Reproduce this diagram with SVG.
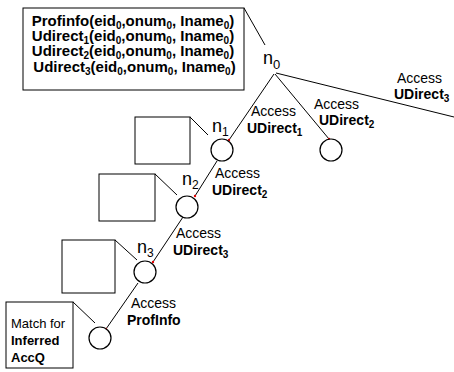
<svg xmlns="http://www.w3.org/2000/svg" width="454" height="372" viewBox="0 0 454 372">
<style>
.box{fill:#fff;stroke:#000;stroke-width:1}
.node{fill:#fff;stroke:#000;stroke-width:1.2}
.edge{stroke:#000;stroke-width:1;fill:none}
.t{font-family:"Liberation Sans",Arial,sans-serif;fill:#000}
.lab{font-size:14px}
.b{font-weight:bold}
.nl{font-size:18px}
.bt{font-size:15px;font-weight:bold}
.mt{font-size:13px}
</style>
<defs>
<marker id="dot" viewBox="0 0 4 4" refX="2" refY="2" markerWidth="4" markerHeight="4" markerUnits="userSpaceOnUse">
<circle cx="2" cy="2" r="1.2" fill="#e00000"/>
</marker>
</defs>
<g id="connectors">
<line class="edge" x1="244" y1="8" x2="265" y2="45"/>
<line class="edge" x1="274" y1="74" x2="229" y2="140" marker-end="url(#dot)"/>
<line class="edge" x1="275" y1="74" x2="329" y2="139" marker-end="url(#dot)"/>
<line class="edge" x1="276" y1="73" x2="454" y2="117"/>
<line class="edge" x1="190" y1="117" x2="208" y2="135"/>
<line class="edge" x1="217" y1="161" x2="195" y2="196" marker-end="url(#dot)"/>
<line class="edge" x1="155" y1="174" x2="177" y2="195"/>
<line class="edge" x1="183" y1="217" x2="153" y2="262" marker-end="url(#dot)"/>
<line class="edge" x1="115" y1="240" x2="137" y2="260"/>
<line class="edge" x1="138" y1="283" x2="106" y2="329" marker-end="url(#dot)"/>
<line class="edge" x1="73" y1="302" x2="95" y2="323"/>
</g>
<g id="edge-labels" class="t lab">
<text x="397" y="83">Access</text>
<text class="b" x="394" y="99">UDirect<tspan font-size="10" dy="3">3</tspan></text>
<text x="314" y="109">Access</text>
<text class="b" x="319" y="125">UDirect<tspan font-size="10" dy="3">2</tspan></text>
<text x="251" y="116">Access</text>
<text class="b" x="247" y="133">UDirect<tspan font-size="10" dy="3">1</tspan></text>
<text x="215" y="178">Access</text>
<text class="b" x="212" y="195">UDirect<tspan font-size="10" dy="3">2</tspan></text>
<text x="176" y="238">Access</text>
<text class="b" x="173" y="255">UDirect<tspan font-size="10" dy="3">3</tspan></text>
<text x="131" y="308">Access</text>
<text class="b" x="127" y="325">ProfInfo</text>
</g>
<g id="n0-box">
<rect class="box" x="23" y="8" width="221" height="82"/>
<text class="t bt" x="133" y="26" text-anchor="middle">Profinfo(eid<tspan font-size="10" dy="3">0</tspan><tspan dy="-3">,onum</tspan><tspan font-size="10" dy="3">0</tspan><tspan dy="-3">, Iname</tspan><tspan font-size="10" dy="3">0</tspan><tspan dy="-3">)</tspan></text>
<text class="t bt" x="133" y="41" text-anchor="middle">Udirect<tspan font-size="10" dy="3">1</tspan><tspan dy="-3">(eid</tspan><tspan font-size="10" dy="3">0</tspan><tspan dy="-3">,onum</tspan><tspan font-size="10" dy="3">0</tspan><tspan dy="-3">, Iname</tspan><tspan font-size="10" dy="3">0</tspan><tspan dy="-3">)</tspan></text>
<text class="t bt" x="133" y="56" text-anchor="middle">Udirect<tspan font-size="10" dy="3">2</tspan><tspan dy="-3">(eid</tspan><tspan font-size="10" dy="3">0</tspan><tspan dy="-3">,onum</tspan><tspan font-size="10" dy="3">0</tspan><tspan dy="-3">, Iname</tspan><tspan font-size="10" dy="3">0</tspan><tspan dy="-3">)</tspan></text>
<text class="t bt" x="134.5" y="72" text-anchor="middle">Udirect<tspan font-size="10" dy="3">3</tspan><tspan dy="-3">(eid</tspan><tspan font-size="10" dy="3">0</tspan><tspan dy="-3">,onum</tspan><tspan font-size="10" dy="3">0</tspan><tspan dy="-3">, Iname</tspan><tspan font-size="10" dy="3">0</tspan><tspan dy="-3">)</tspan></text>
</g>
<g id="n0">
<text class="t nl" x="263" y="64">n<tspan font-size="13" dy="5">0</tspan></text>
</g>
<g id="n1">
<rect class="box" x="135" y="117" width="55" height="47"/>
<circle class="node" cx="222" cy="150" r="11"/>
<text class="t nl" x="212" y="132">n<tspan font-size="12" dy="4">1</tspan></text>
</g>
<g id="n1b">
<circle class="node" cx="331" cy="150" r="11"/>
</g>
<g id="n2">
<rect class="box" x="99" y="174" width="56" height="47"/>
<circle class="node" cx="187" cy="207" r="11"/>
<text class="t nl" x="182" y="185">n<tspan font-size="12" dy="4">2</tspan></text>
</g>
<g id="n3">
<rect class="box" x="62" y="240" width="53" height="53"/>
<circle class="node" cx="145" cy="272" r="11"/>
<text class="t nl" x="137" y="253">n<tspan font-size="12" dy="4">3</tspan></text>
</g>
<g id="n4">
<rect class="box" x="6" y="302" width="67" height="66"/>
<circle class="node" cx="100" cy="338" r="11"/>
<text class="t mt" x="11" y="328">Match for</text>
<text class="t mt b" x="11" y="345">Inferred</text>
<text class="t mt b" x="11" y="362">AccQ</text>
</g>
</svg>
